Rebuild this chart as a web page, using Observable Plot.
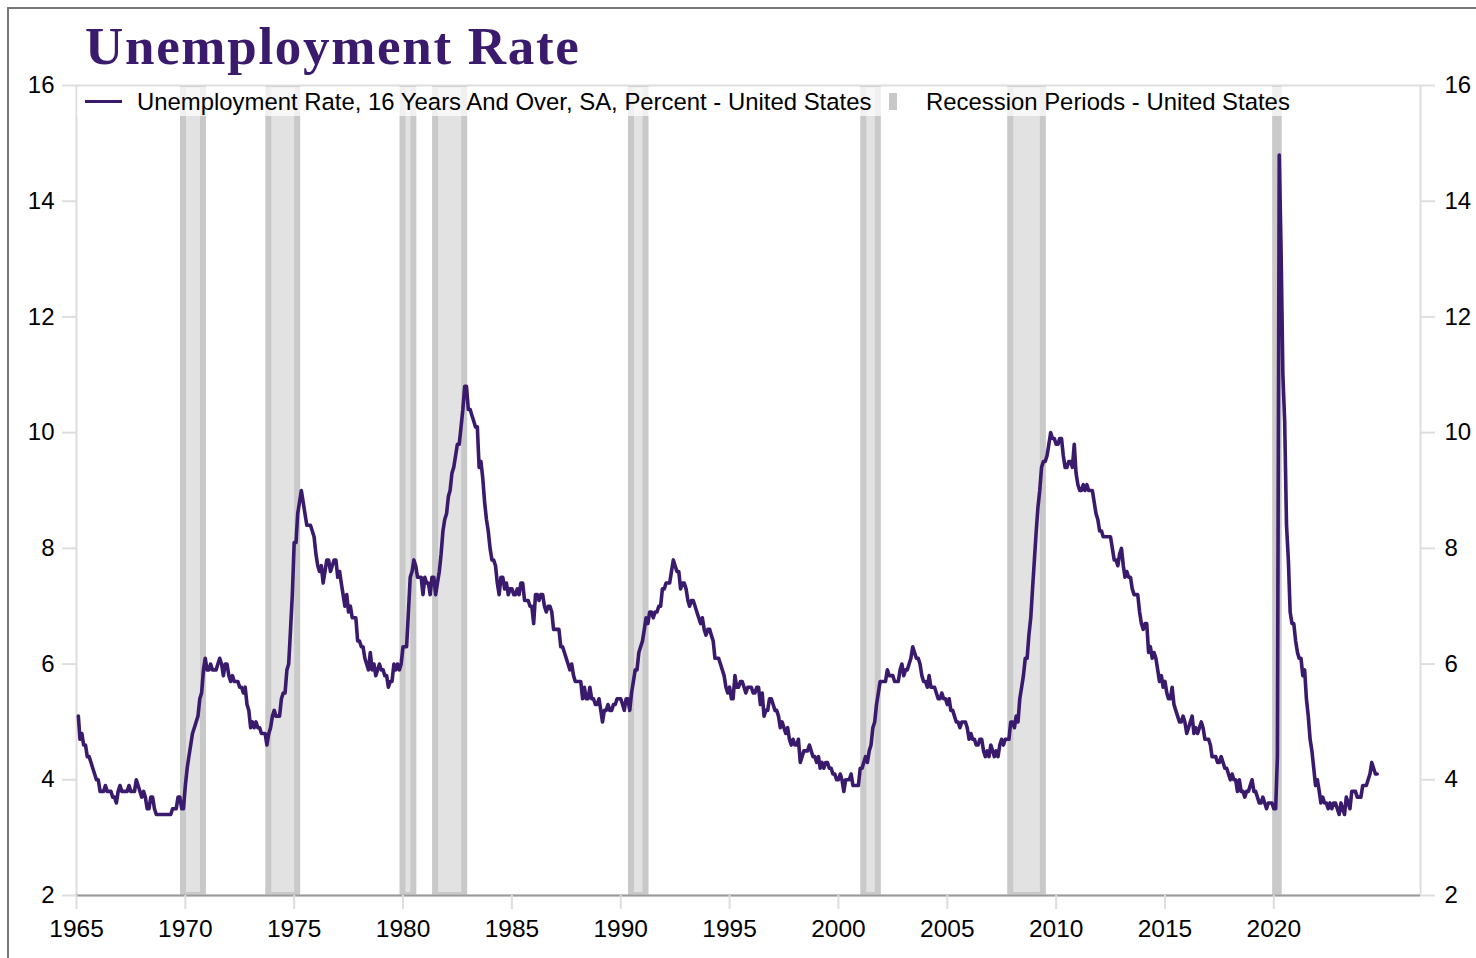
<!DOCTYPE html>
<html>
<head>
<meta charset="utf-8">
<script src="https://cdn.jsdelivr.net/npm/d3@7"></script>
<script src="https://cdn.jsdelivr.net/npm/@observablehq/plot@0.6"></script>
<style>
  html, body { margin: 0; padding: 0; background: #fff; }
  #wrap { position: relative; width: 1476px; height: 958px; overflow: hidden; font-family: "Liberation Sans", Arial, sans-serif; }
  #frameBorder { position: absolute; left: 7px; top: 7px; width: 3000px; height: 3000px; border-left: 2px solid #777; border-top: 2px solid #777; }
  #chart { position: absolute; left: 0; top: 0; }
  #title { position: absolute; left: 85px; top: 20px; font-family: "Liberation Serif", "DejaVu Serif", serif; font-weight: bold; font-size: 53px; line-height: 53px; letter-spacing: 1.7px; color: #3a1a6c; white-space: nowrap; }
  #legend { position: absolute; left: 77px; top: 87px; width: 1225px; height: 29px; background: rgba(255,255,255,0.72); font-size: 23.9px; color: #000; }
  #legend .sw-line { position: absolute; left: 8px; top: 12.5px; width: 37px; height: 3.5px; background: #3a1a6c; }
  #legend .sw-rect { position: absolute; left: 812px; top: 6px; width: 8px; height: 17px; background: #c8c8c8; }
  #legend .t1 { position: absolute; left: 60px; top: 1px; line-height: 27px; white-space: nowrap; }
  #legend .t2 { position: absolute; left: 849px; top: 1px; line-height: 27px; white-space: nowrap; }
</style>
</head>
<body>
<div id="wrap">
  <div id="frameBorder"></div>
  <div id="chart"></div>
  <div id="title">Unemployment Rate</div>
  <div id="legend">
    <div class="sw-line"></div><div class="t1">Unemployment Rate, 16 Years And Over, SA, Percent - United States</div>
    <div class="sw-rect"></div><div class="t2">Recession Periods - United States</div>
  </div>
</div>
<script>
// ---- Data: monthly unemployment rate (%), each array starts in January of its first year ----
const rates1965 = [/*Jan 1965 omitted*/ 5.1,4.7,4.8,4.6,4.6,4.4,4.4,4.3,4.2,4.1,4.0,
  4.0,3.8,3.8,3.8,3.9,3.8,3.8,3.8,3.7,3.7,3.6,3.8,
  3.9,3.8,3.8,3.8,3.8,3.9,3.8,3.8,3.8,4.0,3.9,3.8,
  3.7,3.8,3.7,3.5,3.5,3.7,3.7,3.5,3.4,3.4,3.4,3.4,
  3.4,3.4,3.4,3.4,3.4,3.5,3.5,3.5,3.7,3.7,3.5,3.5];
const rates1970s = [
  3.9,4.2,4.4,4.6,4.8,4.9,5.0,5.1,5.4,5.5,5.9,6.1,
  5.9,5.9,6.0,5.9,5.9,5.9,6.0,6.1,6.0,5.8,6.0,6.0,
  5.8,5.7,5.8,5.7,5.7,5.7,5.6,5.6,5.5,5.6,5.3,5.2,
  4.9,5.0,4.9,5.0,4.9,4.9,4.8,4.8,4.8,4.6,4.8,4.9,
  5.1,5.2,5.1,5.1,5.1,5.4,5.5,5.5,5.9,6.0,6.6,7.2,
  8.1,8.1,8.6,8.8,9.0,8.8,8.6,8.4,8.4,8.4,8.3,8.2,
  7.9,7.7,7.6,7.7,7.4,7.6,7.8,7.8,7.6,7.7,7.8,7.8,
  7.5,7.6,7.4,7.2,7.0,7.2,6.9,7.0,6.8,6.8,6.8,6.4,
  6.4,6.3,6.3,6.1,6.0,5.9,6.2,5.9,6.0,5.8,5.9,6.0,
  5.9,5.9,5.8,5.8,5.6,5.7,5.7,6.0,5.9,6.0,5.9,6.0];
const rates1980s = [
  6.3,6.3,6.3,6.9,7.5,7.6,7.8,7.7,7.5,7.5,7.5,7.2,
  7.5,7.4,7.4,7.2,7.5,7.5,7.2,7.4,7.6,7.9,8.3,8.5,
  8.6,8.9,9.0,9.3,9.4,9.6,9.8,9.8,10.1,10.4,10.8,10.8,
  10.4,10.4,10.3,10.2,10.1,10.1,9.4,9.5,9.2,8.8,8.5,8.3,
  8.0,7.8,7.8,7.7,7.4,7.2,7.5,7.5,7.3,7.4,7.2,7.3,
  7.3,7.2,7.2,7.3,7.2,7.4,7.4,7.1,7.1,7.1,7.0,7.0,
  6.7,7.2,7.2,7.1,7.2,7.2,7.0,6.9,7.0,7.0,6.9,6.6,
  6.6,6.6,6.6,6.3,6.3,6.2,6.1,6.0,5.9,6.0,5.8,5.7,
  5.7,5.7,5.7,5.4,5.6,5.4,5.4,5.6,5.4,5.4,5.3,5.3,
  5.4,5.2,5.0,5.2,5.2,5.3,5.2,5.2,5.3,5.3,5.4,5.4];
const rates1990s = [
  5.4,5.3,5.2,5.4,5.4,5.2,5.5,5.7,5.9,5.9,6.2,6.3,
  6.4,6.6,6.8,6.7,6.9,6.9,6.8,6.9,6.9,7.0,7.0,7.3,
  7.3,7.4,7.4,7.4,7.6,7.8,7.7,7.6,7.6,7.3,7.4,7.4,
  7.3,7.1,7.0,7.1,7.1,7.0,6.9,6.8,6.7,6.8,6.6,6.5,
  6.6,6.6,6.5,6.4,6.1,6.1,6.1,6.0,5.9,5.8,5.6,5.5,
  5.6,5.4,5.4,5.8,5.6,5.6,5.7,5.7,5.6,5.5,5.6,5.6,
  5.6,5.5,5.5,5.6,5.6,5.3,5.5,5.1,5.2,5.2,5.4,5.4,
  5.3,5.2,5.2,5.1,4.9,5.0,4.9,4.8,4.9,4.7,4.6,4.7,
  4.6,4.6,4.7,4.3,4.4,4.5,4.5,4.5,4.6,4.5,4.4,4.4,
  4.3,4.4,4.2,4.3,4.2,4.3,4.3,4.2,4.2,4.1,4.1,4.0];
const rates2000s = [
  4.0,4.1,4.0,3.8,4.0,4.0,4.0,4.1,3.9,3.9,3.9,3.9,
  4.2,4.2,4.3,4.4,4.3,4.5,4.6,4.9,5.0,5.3,5.5,5.7,
  5.7,5.7,5.7,5.9,5.8,5.8,5.8,5.7,5.7,5.7,5.9,6.0,
  5.8,5.9,5.9,6.0,6.1,6.3,6.2,6.1,6.1,6.0,5.8,5.7,
  5.7,5.6,5.8,5.6,5.6,5.6,5.5,5.4,5.4,5.5,5.4,5.4,
  5.3,5.4,5.2,5.2,5.1,5.0,5.0,4.9,5.0,5.0,5.0,4.9,
  4.7,4.8,4.7,4.7,4.6,4.6,4.7,4.7,4.5,4.4,4.5,4.4,
  4.6,4.5,4.4,4.5,4.4,4.6,4.7,4.6,4.7,4.7,4.7,5.0,
  5.0,4.9,5.1,5.0,5.4,5.6,5.8,6.1,6.1,6.5,6.8,7.3,
  7.8,8.3,8.7,9.0,9.4,9.5,9.5,9.6,9.8,10.0,9.9,9.9];
const rates2010s = [
  9.8,9.8,9.9,9.9,9.6,9.4,9.4,9.5,9.5,9.4,9.8,9.3,
  9.1,9.0,9.0,9.1,9.0,9.1,9.0,9.0,9.0,8.8,8.6,8.5,
  8.3,8.3,8.2,8.2,8.2,8.2,8.2,8.0,7.8,7.8,7.7,7.9,
  8.0,7.7,7.5,7.6,7.5,7.5,7.3,7.2,7.2,7.2,6.9,6.7,
  6.6,6.7,6.7,6.2,6.3,6.1,6.2,6.1,5.9,5.7,5.8,5.6,
  5.7,5.5,5.4,5.4,5.6,5.3,5.2,5.1,5.0,5.0,5.1,5.0,
  4.8,4.9,5.0,5.1,4.8,4.9,4.8,4.9,5.0,4.9,4.7,4.7,
  4.7,4.6,4.4,4.4,4.4,4.3,4.3,4.4,4.3,4.2,4.2,4.1,
  4.0,4.1,4.0,4.0,3.8,4.0,3.8,3.8,3.7,3.8,3.8,3.9,
  4.0,3.8,3.8,3.7,3.6,3.6,3.7,3.6,3.5,3.6,3.6,3.6];
const rates2020s = [
  3.5,3.5,4.4,14.8,13.2,11.0,10.2,8.4,7.8,6.9,6.7,6.7,
  6.4,6.2,6.1,6.1,5.8,5.9,5.4,5.1,4.7,4.5,4.2,3.9,
  4.0,3.8,3.6,3.7,3.6,3.6,3.5,3.6,3.5,3.6,3.6,3.5,
  3.4,3.6,3.5,3.4,3.7,3.6,3.5,3.8,3.8,3.8,3.7,3.7,
  3.7,3.9,3.9,3.9,4.0,4.1,4.3,4.2,4.1,4.1];
// [array, first year, first month index]
const seriesBlocks = [[rates1965,1965,1],[rates1970s,1970,0],[rates1980s,1980,0],[rates1990s,1990,0],[rates2000s,2000,0],[rates2010s,2010,0],[rates2020s,2020,0]];

// NBER recessions (peak month -> trough month)
const recessionStart = ["1969-12","1973-11","1980-01","1981-07","1990-07","2001-03","2007-12","2020-02"];
const recessionEnd   = ["1970-11","1975-03","1980-07","1982-11","1991-03","2001-11","2009-06","2020-04"];

const yTicks = [2,4,6,8,10,12,14,16];
const xTickYears = [1965,1970,1975,1980,1985,1990,1995,2000,2005,2010,2015,2020];
const xDomain = ["1965-01-01","2026-09-27"];

// ---- Build tables ----
const series = [];
for (const [arr, y0, m0] of seriesBlocks) {
  arr.forEach((v, i) => {
    const m = m0 + i;
    series.push({date: new Date(Date.UTC(y0 + Math.floor(m / 12), m % 12, 1)), rate: v});
  });
}
const parseM = s => new Date(Date.UTC(+s.slice(0,4), +s.slice(5,7) - 1, 1));
const recessions = recessionStart.map((s, i) => ({start: parseM(s), end: parseM(recessionEnd[i])}));
const xTicks = xTickYears.map(y => new Date(Date.UTC(y, 0, 1)));

const purple = "#3a1a6c";
const intFmt = d => String(d);
const chart = Plot.plot({
  width: 1476,
  height: 958,
  marginLeft: 76,
  marginRight: 56,
  marginTop: 85,
  marginBottom: 63,
  style: {fontFamily: "'Liberation Sans', Arial, sans-serif", fontSize: "24px", background: "transparent", color: "#000", overflow: "visible"},
  x: {type: "utc", domain: xDomain.map(d => new Date(d + "T00:00:00Z"))},
  y: {domain: [yTicks[0], yTicks[yTicks.length - 1]]},
  marks: [
    Plot.rect(recessions, {x1: "start", x2: "end", fill: "#e2e2e2", stroke: "#c9c9c9", strokeWidth: 6, clip: true}),
    Plot.frame({stroke: "#dedede", strokeWidth: 2}),
    Plot.ruleY([yTicks[0]], {stroke: "#9a9a9a", strokeWidth: 2}),
    Plot.axisY(yTicks, {anchor: "left", tickSize: 14, tickPadding: 8, stroke: "#dedede", strokeWidth: 2, label: null, fill: "#000", tickFormat: intFmt}),
    Plot.axisY(yTicks, {anchor: "right", tickSize: 14, tickPadding: 10, stroke: "#dedede", strokeWidth: 2, label: null, fill: "#000", tickFormat: intFmt}),
    Plot.axisX(xTicks, {anchor: "bottom", tickSize: 14, tickPadding: 10, stroke: "#dedede", strokeWidth: 2, label: null, tickFormat: "%Y", fill: "#000", fontSize: 24.5}),
    Plot.line(series, {x: "date", y: "rate", stroke: purple, strokeWidth: 3.6, strokeLinejoin: "round"})
  ]
});
document.getElementById("chart").appendChild(chart);
</script>
</body>
</html>
